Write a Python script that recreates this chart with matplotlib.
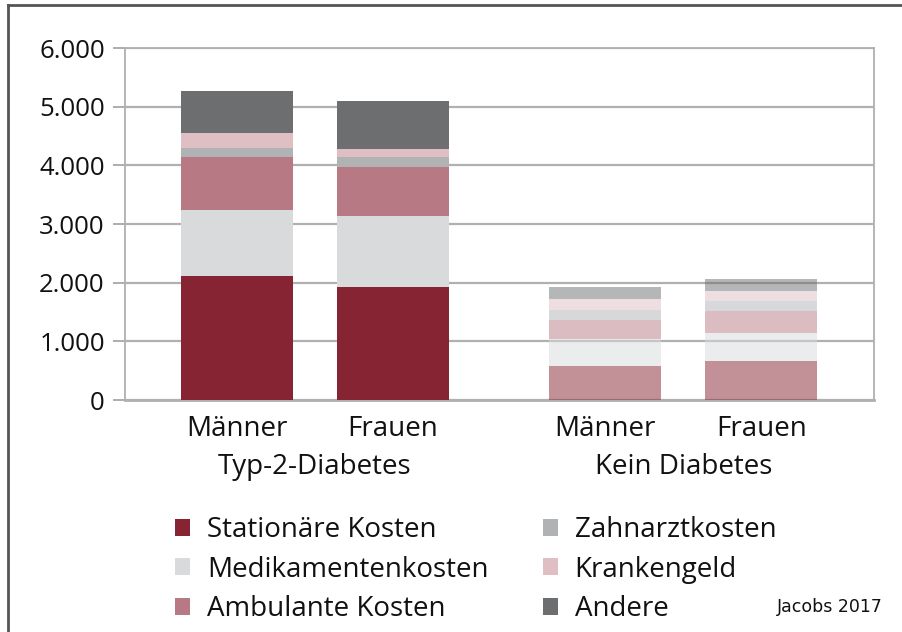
import numpy as np
import matplotlib.pyplot as plt
from matplotlib.patches import Patch
from matplotlib.lines import Line2D

plt.rcParams['font.family'] = ['Open Sans', 'DejaVu Sans']

# values (EUR per person)
bar_labels = ["Männer", "Frauen", "Männer", "Frauen"]
group_labels = ["Typ-2-Diabetes", "Kein Diabetes"]
series_names = ["Stationäre Kosten", "Medikamentenkosten", "Ambulante Kosten",
                "Zahnarztkosten", "Krankengeld", "Andere"]
stationaer = [2118, 1920, 584, 664]
medikamente = [1119, 1215, 450, 472]
ambulant = [903, 840, 329, 380]
zahnarzt = [148, 160, 170, 176]
krankengeld = [255, 136, 182, 170]
andere = [726, 828, 205, 205]
yticks = [0, 1000, 2000, 3000, 4000, 5000, 6000]
ytick_labels = ["0", "1.000", "2.000", "3.000", "4.000", "5.000", "6.000"]
source = "Jacobs 2017"

colors = ["#872433", "#d9dadc", "#b77a84", "#b1b2b4", "#dfbec4", "#6d6e70"]
series = [stationaer, medikamente, ambulant, zahnarzt, krankengeld, andere]
txt = "#111111"

fig = plt.figure(figsize=(9.03, 6.32), dpi=100)
ax = fig.add_axes([125 / 903, 1 - 400 / 632, (874 - 125) / 903, (400 - 48) / 632])

x = np.array([0, 1, 2.36, 3.36])
width = 0.72
alphas = [1, 1, 0.5, 0.5]

bottom = np.zeros(len(x))
for vals, col in zip(series, colors):
    vals = np.array(vals, float)
    for i in range(len(x)):
        ax.bar(x[i], vals[i], width, bottom=bottom[i], color=col,
               alpha=alphas[i], edgecolor="none", zorder=3)
    bottom += vals

ax.set_xlim(-0.718, 4.083)
ax.set_ylim(0, 6000)
ax.set_yticks(yticks)
ax.set_yticklabels(ytick_labels, fontsize=18.5, color=txt)
ax.tick_params(axis="y", length=8.5, width=1.2, color="#a0a0a0", pad=6)
ax.set_xticks(x)
ax.set_xticklabels(bar_labels, fontsize=20, color=txt)
ax.tick_params(axis="x", length=0, pad=11)
ax.yaxis.grid(True, color="#b0b0b0", linewidth=1.6, zorder=0)
ax.set_axisbelow(True)
for s in ax.spines.values():
    s.set_color("#b0b0b0")
    s.set_linewidth(1.3)
ax.spines["bottom"].set_linewidth(2)

# group labels below the bar labels
for gx, lab in zip([(x[0] + x[1]) / 2, (x[2] + x[3]) / 2], group_labels):
    ax.text(gx, -0.19, lab, transform=ax.get_xaxis_transform(),
            ha="center", va="center", fontsize=20, color=txt)

handles = [Patch(facecolor=c, edgecolor="none") for c in colors]
fig.legend(handles, series_names, loc="upper left",
           bbox_to_anchor=(150 / 903, 1 - 491 / 632), ncol=2, frameon=False,
           fontsize=20, handlelength=0.55, handleheight=0.55, handletextpad=0.6,
           labelspacing=0.42, columnspacing=1.95, labelcolor=txt)

fig.text(883 / 903, 1 - 607 / 632, source, ha="right", va="center",
         fontsize=12.5, color=txt, family="DejaVu Sans")

# outer frame (top and left edges visible)
fig.add_artist(Line2D([8 / 903, 8 / 903], [0, 1 - 5 / 632], transform=fig.transFigure,
                      color="#555555", linewidth=2))
fig.add_artist(Line2D([8 / 903, 1], [1 - 5 / 632, 1 - 5 / 632], transform=fig.transFigure,
                      color="#555555", linewidth=2))

fig.savefig("out.png", dpi=100)
